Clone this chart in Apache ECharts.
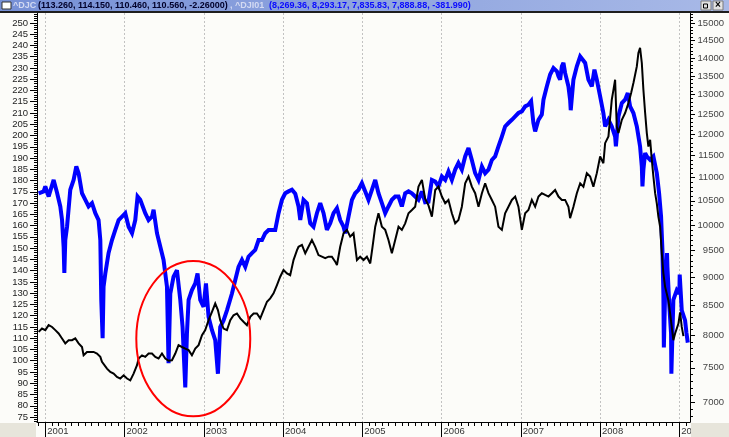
<!DOCTYPE html>
<html><head><meta charset="utf-8">
<script src="https://cdn.jsdelivr.net/npm/echarts@6/dist/echarts.min.js"></script>
<style>html,body{margin:0;padding:0;background:#fcfcf9;}#c{width:729px;height:437px;}</style>
</head><body><div id="c"></div>
<script>
// ---- data (x = decimal year) ----
const djcDates = [2000.916,2000.958,2001.000,2001.042,2001.085,2001.126,2001.168,2001.211,2001.252,2001.294,2001.337,2001.378,2001.420,2001.463,2001.483,2001.526,2001.568,2001.609,2001.652,2001.694,2001.715,2001.735,2001.778,2001.820,2001.862,2001.904,2001.946,2001.988,2002.031,2002.072,2002.114,2002.157,2002.177,2002.220,2002.261,2002.303,2002.346,2002.388,2002.429,2002.472,2002.514,2002.555,2002.598,2002.640,2002.681,2002.724,2002.766,2002.808,2002.850,2002.892,2002.934,2002.977,2003.018,2003.060,2003.103,2003.144,2003.178,2003.207,2003.249,2003.292,2003.334,2003.375,2003.418,2003.460,2003.501,2003.544,2003.586,2003.628,2003.670,2003.712,2003.754,2003.797,2003.838,2003.880,2003.923,2003.964,2004.006,2004.049,2004.090,2004.132,2004.175,2004.195,2004.238,2004.280,2004.321,2004.364,2004.406,2004.447,2004.490,2004.532,2004.574,2004.616,2004.658,2004.680,2004.721,2004.763,2004.806,2004.847,2004.889,2004.932,2004.973,2005.015,2005.058,2005.100,2005.129,2005.163,2005.204,2005.247,2005.289,2005.330,2005.373,2005.415,2005.457,2005.499,2005.541,2005.583,2005.626,2005.667,2005.709,2005.752,2005.793,2005.835,2005.878,2005.920,2005.961,2006.004,2006.046,2006.087,2006.130,2006.172,2006.213,2006.256,2006.298,2006.340,2006.382,2006.424,2006.466,2006.509,2006.550,2006.592,2006.635,2006.676,2006.718,2006.761,2006.802,2006.844,2006.887,2006.929,2006.970,2007.013,2007.055,2007.096,2007.139,2007.181,2007.223,2007.265,2007.307,2007.349,2007.392,2007.433,2007.475,2007.518,2007.559,2007.601,2007.622,2007.664,2007.707,2007.749,2007.790,2007.833,2007.875,2007.916,2007.959,2008.001,2008.042,2008.064,2008.106,2008.148,2008.169,2008.190,2008.211,2008.232,2008.275,2008.316,2008.358,2008.392,2008.421,2008.464,2008.484,2008.505,2008.527,2008.547,2008.569,2008.590,2008.610,2008.632,2008.653,2008.673,2008.695,2008.716,2008.736,2008.758,2008.779,2008.799,2008.821,2008.862,2008.884,2008.925,2008.947,2008.989,2009.010,2009.031,2009.052];
const djcValues = [112.8,114.3,113.6,115.8,115.0,113.6,112.1,109.9,107.7,109.1,109.1,109.9,107.7,106.1,102.4,103.9,103.9,103.9,103.2,101.7,99.5,98.8,96.5,95.0,94.3,92.8,92.1,93.5,92.1,91.3,94.3,98.0,101.0,102.4,101.7,103.2,103.2,101.7,101.0,103.2,101.0,100.0,100.2,103.2,106.9,106.1,105.4,104.7,102.4,105.4,106.9,111.3,113.6,118.0,121.7,125.4,122.5,118.0,114.3,113.6,118.0,120.2,121.0,118.8,117.3,115.8,119.5,121.0,121.0,118.8,122.5,126.2,127.7,129.9,133.6,137.3,140.3,138.8,138.0,144.7,149.0,150.6,151.4,147.7,150.6,153.6,150.6,146.9,146.2,145.5,146.2,146.2,144.0,142.5,150.6,156.6,158.1,155.1,156.6,144.7,146.2,144.7,146.2,143.2,150.6,159.5,165.5,159.5,158.1,153.6,147.7,153.6,159.5,158.1,161.0,165.5,166.9,168.4,177.3,180.3,172.0,169.0,164.0,175.8,177.3,172.9,169.9,171.4,165.5,161.0,162.5,168.4,178.8,181.8,177.3,174.4,168.4,174.4,178.8,174.4,171.4,168.4,159.5,158.1,165.5,168.4,171.4,172.9,168.4,158.1,165.5,166.9,171.4,168.4,172.9,174.4,173.6,172.9,174.4,175.8,172.9,171.4,171.4,168.4,163.3,168.4,174.4,178.8,177.3,183.3,181.8,177.3,183.3,190.7,187.7,196.6,199.6,215.9,220.3,224.8,204.0,201.1,207.0,210.0,214.4,218.9,223.3,230.7,236.7,238.9,232.2,220.3,210.0,201.1,195.1,198.1,189.2,181.8,174.4,169.9,164.0,159.5,147.7,138.8,132.8,126.9,121.0,109.1,112.1,116.5,121.5,115.0,110.9];

const djiDates = [2000.916,2000.979,2001.000,2001.042,2001.105,2001.148,2001.189,2001.211,2001.231,2001.240,2001.252,2001.274,2001.315,2001.357,2001.391,2001.420,2001.463,2001.505,2001.546,2001.589,2001.631,2001.672,2001.694,2001.706,2001.723,2001.735,2001.757,2001.798,2001.841,2001.883,2001.925,2001.968,2002.009,2002.051,2002.094,2002.135,2002.164,2002.198,2002.261,2002.303,2002.346,2002.366,2002.409,2002.451,2002.492,2002.535,2002.555,2002.577,2002.618,2002.661,2002.703,2002.732,2002.766,2002.787,2002.808,2002.850,2002.892,2002.921,2002.955,2002.997,2003.027,2003.060,2003.103,2003.144,2003.178,2003.207,2003.249,2003.292,2003.355,2003.397,2003.438,2003.481,2003.523,2003.564,2003.607,2003.649,2003.691,2003.734,2003.775,2003.817,2003.860,2003.901,2003.943,2003.986,2004.027,2004.069,2004.112,2004.154,2004.195,2004.217,2004.258,2004.301,2004.343,2004.384,2004.427,2004.469,2004.511,2004.553,2004.595,2004.637,2004.680,2004.721,2004.763,2004.784,2004.826,2004.869,2004.910,2004.952,2004.995,2005.037,2005.078,2005.121,2005.163,2005.204,2005.247,2005.289,2005.330,2005.373,2005.415,2005.457,2005.499,2005.541,2005.583,2005.626,2005.667,2005.709,2005.752,2005.793,2005.835,2005.878,2005.920,2005.961,2006.004,2006.046,2006.087,2006.130,2006.172,2006.213,2006.256,2006.298,2006.340,2006.382,2006.424,2006.466,2006.509,2006.550,2006.592,2006.635,2006.676,2006.718,2006.761,2006.802,2006.844,2006.887,2006.929,2006.970,2007.013,2007.055,2007.096,2007.130,2007.159,2007.181,2007.223,2007.265,2007.286,2007.328,2007.370,2007.412,2007.455,2007.475,2007.496,2007.518,2007.538,2007.559,2007.601,2007.622,2007.630,2007.664,2007.707,2007.749,2007.770,2007.812,2007.853,2007.896,2007.929,2007.959,2008.001,2008.042,2008.064,2008.106,2008.148,2008.190,2008.200,2008.232,2008.275,2008.316,2008.350,2008.379,2008.421,2008.464,2008.505,2008.527,2008.535,2008.547,2008.569,2008.590,2008.632,2008.673,2008.716,2008.745,2008.770,2008.787,2008.799,2008.805,2008.821,2008.845,2008.850,2008.875,2008.896,2008.900,2008.925,2008.968,2009.001,2009.005,2009.031,2009.073,2009.090,2009.107];
const djiValues = [10660,10700,10810,10590,10950,10670,10380,10100,9570,9080,9700,9965,10735,10950,11250,11100,10660,10520,10380,10450,10240,10100,9700,8600,7960,8830,9070,9450,9700,9900,10100,10170,10240,9965,9835,10100,10590,10520,10240,10100,10170,10310,9835,9570,9320,8830,7570,8710,9010,9130,8600,8140,7210,8035,8600,8770,8890,9070,8600,8480,8890,8310,8090,7930,7410,8140,8250,8420,8710,8950,9190,9320,9190,9380,9450,9510,9700,9700,9835,9900,9900,9900,10240,10520,10660,10700,10735,10650,10380,10100,10520,10450,10035,9965,10240,10450,10240,9900,10035,10240,10345,10100,9965,9835,10170,10520,10660,10735,10880,10700,10520,10735,10950,10660,10450,10240,10380,10520,10590,10590,10380,10660,10700,10660,10590,10520,10700,10470,10480,10950,10915,10810,11025,10950,11140,10950,11180,11330,11180,11480,11675,11400,11100,10950,11250,11100,11180,11400,11480,11715,11950,12195,12280,12360,12445,12530,12570,12700,12740,12830,12280,12075,12360,12490,12870,13220,13540,13720,13630,13490,13400,13765,13860,13585,13220,12870,12600,13400,13765,14045,14095,13860,13400,13220,13675,13400,12955,12530,12195,12360,12195,11950,11715,12445,12785,12870,13045,12700,12530,12195,11715,11250,10810,11180,11560,11480,11400,11480,11100,10660,10170,9510,8710,7815,8710,9450,9190,8480,8035,7410,8600,8770,8710,9050,8420,8250,8050,7890];

const yearTicks = [2001,2002,2003,2004,2005,2006,2007,2008,2009];
const leftTicks = [75,80,85,90,95,100,105,110,115,120,125,130,135,140,145,150,155,160,165,170,175,180,185,190,195,200,205,210,215,220,225,230,235,240,245,250];
const rightTicks = [7000,7500,8000,8500,9000,9500,10000,10500,11000,11500,12000,12500,13000,13500,14000,14500,15000];
const titleDJC = '(113.260, 114.150, 110.460, 110.560, -2.26000)';
const titleDJI = '(8,269.36, 8,293.17, 7,835.83, 7,888.88, -381.990)';
// annotation ellipse bounding box, in data units (x: years, y: left axis)
const circleDates = [2002.148, 2003.586];
const circleValues = [75.3, 144.3];

// ---- axes ranges ----
const xMin = 2000.895, xMax = 2009.135;
const yLMin = 72.8, yLMax = 254.4;
const yRMin = Math.log10(6724), yRMax = Math.log10(15327);

const monthTicks = [];
for (let y = 2000; y <= 2009; y++) for (let m = 0; m < 12; m++) { const v = y + m / 12; if (v > xMin && v < xMax) monthTicks.push(v); }
const leftMinor = []; for (let v = 73; v <= 254; v++) leftMinor.push(v);
const rightMinor = []; for (let v = 6800; v <= 15300; v += 100) rightMinor.push(Math.log10(v));
const rightTicksLog = rightTicks.map(v => Math.log10(v));

const FONT = '"Liberation Sans Narrow","Liberation Sans",Arial,sans-serif';
const chart = echarts.init(document.getElementById('c'), null, {renderer: 'canvas'});

chart.setOption({
  animation: false,
  backgroundColor: '#fcfcf9',
  textStyle: {fontFamily: FONT},
  grid: {left: 37, right: 39, top: 13, bottom: 15, containLabel: false, outerBoundsMode: 'none'},
  xAxis: [
    {type: 'value', min: xMin, max: xMax, position: 'bottom',
     axisLine: {show: true, onZero: false, lineStyle: {color: '#000', width: 1}},
     axisTick: {show: true, customValues: yearTicks, length: 15, lineStyle: {color: '#000'}},
     axisLabel: {show: true, customValues: yearTicks, formatter: v => String(Math.round(v)), align: 'left', verticalAlign: 'top',
                 margin: 4, padding: [0, 0, 0, 2], color: '#333', fontSize: 9.5, fontFamily: FONT},
     splitLine: {show: true, lineStyle: {color: '#c2c2c2', type: [2, 2], width: 1}}},
    {type: 'value', min: xMin, max: xMax, position: 'bottom',
     axisLine: {show: false}, axisTick: {show: true, customValues: monthTicks, length: 4, lineStyle: {color: '#000'}},
     axisLabel: {show: false}, splitLine: {show: false}}
  ],
  yAxis: [
    {type: 'value', position: 'left', min: yLMin, max: yLMax,
     axisLine: {show: true, onZero: false, lineStyle: {color: '#000'}},
     axisTick: {show: true, customValues: leftTicks, length: 7, lineStyle: {color: '#000'}},
     axisLabel: {customValues: leftTicks, margin: 9, color: '#222', fontSize: 9.5, fontFamily: FONT},
     splitLine: {show: false}},
    {type: 'value', position: 'left', min: yLMin, max: yLMax,
     axisLine: {show: false}, axisTick: {show: true, customValues: leftMinor, length: 3, lineStyle: {color: '#000'}},
     axisLabel: {show: false}, splitLine: {show: false}},
    {type: 'value', position: 'right', min: yRMin, max: yRMax,
     axisLine: {show: true, onZero: false, lineStyle: {color: '#000'}},
     axisTick: {show: true, customValues: rightTicksLog, length: 5, lineStyle: {color: '#000'}},
     axisLabel: {customValues: rightTicksLog, formatter: v => String(Math.round(Math.pow(10, v) / 100) * 100),
                 align: 'right', margin: 34, color: '#444', fontSize: 9.5, fontFamily: FONT},
     splitLine: {show: false}},
    {type: 'value', position: 'right', min: yRMin, max: yRMax,
     axisLine: {show: false}, axisTick: {show: true, customValues: rightMinor, length: 3, lineStyle: {color: '#000'}},
     axisLabel: {show: false}, splitLine: {show: false}}
  ],
  series: [
    {type: 'line', name: '^DJI01', xAxisIndex: 0, yAxisIndex: 2, symbol: 'none', smooth: false, z: 2,
     data: djiDates.map((d, i) => [d, Math.log10(djiValues[i])]),
     lineStyle: {color: '#0000ff', width: 4, join: 'miter', miterLimit: 3}},
    {type: 'line', name: '^DJC', xAxisIndex: 0, yAxisIndex: 0, symbol: 'none', smooth: false, z: 3,
     data: djcDates.map((d, i) => [d, djcValues[i]]),
     lineStyle: {color: '#000000', width: 2, join: 'miter', miterLimit: 3}}
  ]
});

const pA = chart.convertToPixel({seriesIndex: 1}, [circleDates[0], circleValues[1]]);
const pB = chart.convertToPixel({seriesIndex: 1}, [circleDates[1], circleValues[0]]);

chart.setOption({
  graphic: [
    {type: 'rect', z: 100, shape: {x: 0, y: 0, width: 729, height: 11},
     style: {fill: new echarts.graphic.LinearGradient(0, 0, 1, 0, [{offset: 0, color: '#7690d6'}, {offset: 1, color: '#a8b9e7'}])}},
    {type: 'rect', z: 100, shape: {x: 0, y: 11, width: 729, height: 2}, style: {fill: '#1e1e1e'}},
    {type: 'rect', z: 101, shape: {x: 2, y: 2, width: 9, height: 7}, style: {fill: '#ffffff', stroke: '#333', lineWidth: 1}},
    {type: 'text', z: 101, x: 13, y: 6, style: {text: '^DJC', fill: '#d3daf2', font: 'bold 9px "Liberation Sans", Arial', verticalAlign: 'middle'}},
    {type: 'text', z: 101, x: 38, y: 6, style: {text: titleDJC, fill: '#00002a', font: 'bold 9px "Liberation Sans", Arial', verticalAlign: 'middle'}},
    {type: 'text', z: 101, x: 230, y: 6, style: {text: ', ^DJI01', fill: '#d3daf2', font: 'bold 9px "Liberation Sans", Arial', verticalAlign: 'middle'}},
    {type: 'text', z: 101, x: 269, y: 6, style: {text: titleDJI, fill: '#0a0aff', font: 'bold 9px "Liberation Sans", Arial', verticalAlign: 'middle'}},
    {type: 'rect', z: 101, shape: {x: 701, y: 1, width: 10, height: 9}, style: {fill: '#e2e2e2', stroke: '#7a7a7a', lineWidth: 1}},
    {type: 'rect', z: 101, shape: {x: 713, y: 1, width: 10, height: 9}, style: {fill: '#e2e2e2', stroke: '#7a7a7a', lineWidth: 1}},
    {type: 'text', z: 102, x: 718, y: 5.5, style: {text: '×', fill: '#000', font: 'bold 10px "Liberation Sans", Arial', align: 'center', verticalAlign: 'middle'}},
    {type: 'rect', z: 102, shape: {x: 703.5, y: 4, width: 4, height: 4}, style: {fill: 'none', stroke: '#000', lineWidth: 1}},
    {type: 'rect', z: 100, shape: {x: 0, y: 423, width: 36, height: 14}, style: {fill: '#e7e5db'}},
    {type: 'rect', z: 100, shape: {x: 691, y: 423, width: 38, height: 14}, style: {fill: '#e7e5db'}},
    {type: 'ellipse', z: 50,
     shape: {cx: (pA[0] + pB[0]) / 2, cy: (pA[1] + pB[1]) / 2, rx: Math.abs(pB[0] - pA[0]) / 2, ry: Math.abs(pB[1] - pA[1]) / 2},
     style: {fill: 'none', stroke: '#ff0000', lineWidth: 2}}
  ]
});
</script></body></html>
